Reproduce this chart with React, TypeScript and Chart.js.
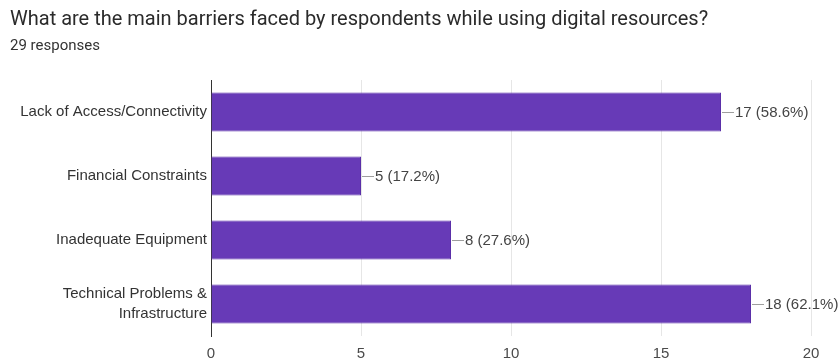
import React, { useEffect, useRef } from "react";
import { Chart, registerables } from "chart.js";

Chart.register(...registerables);

const TITLE = "What are the main barriers faced by respondents while using digital resources?";
const SUBTITLE = "29 responses";
const TOTAL = 29;
const categories: (string | string[])[] = [
  "Lack of Access/Connectivity",
  "Financial Constraints",
  "Inadequate Equipment",
  ["Technical Problems &", "Infrastructure"],
];
const counts = [17, 5, 8, 18];
const xTicks = [0, 5, 10, 15, 20];

const LABEL_FONT = "Arial, 'Liberation Sans', sans-serif";

const headerPlugin = {
  id: "header",
  beforeDraw(chart: any) {
    const ctx = chart.ctx;
    ctx.save();
    ctx.fillStyle = "#ffffff";
    ctx.fillRect(0, 0, chart.width, chart.height);
    ctx.textAlign = "left";
    ctx.textBaseline = "alphabetic";
    ctx.fillStyle = "#2b2b2b";
    ctx.font = "20px Roboto, sans-serif";
    ctx.fillText(TITLE, 10, 25);
    ctx.fillStyle = "#333333";
    ctx.font = "15px Roboto, sans-serif";
    ctx.fillText(SUBTITLE, 10, 50);
    ctx.restore();
  },
};

const valueLabelPlugin = {
  id: "valueLabels",
  afterDatasetsDraw(chart: any) {
    const ctx = chart.ctx;
    const meta = chart.getDatasetMeta(0);
    ctx.save();
    ctx.font = `15px ${LABEL_FONT}`;
    ctx.textAlign = "left";
    ctx.textBaseline = "middle";
    meta.data.forEach((bar: any, i: number) => {
      const v = counts[i];
      const x = bar.x;
      const y = bar.y;
      ctx.strokeStyle = "#9e9e9e";
      ctx.lineWidth = 1;
      ctx.beginPath();
      ctx.moveTo(x + 1, Math.round(y) + 0.5);
      ctx.lineTo(x + 13, Math.round(y) + 0.5);
      ctx.stroke();
      ctx.fillStyle = "#444444";
      ctx.fillText(`${v} (${((v / TOTAL) * 100).toFixed(1)}%)`, x + 14, y + 1);
    });
    ctx.restore();
  },
};

export default function App() {
  const ref = useRef<HTMLCanvasElement | null>(null);
  useEffect(() => {
    document.body.style.margin = "0";
    const chart = new Chart(ref.current as HTMLCanvasElement, {
      type: "bar",
      data: {
        labels: categories as any,
        datasets: [
          {
            data: counts,
            backgroundColor: "#673ab7",
            borderColor: "#5a2fa8",
            borderWidth: 1,
            barPercentage: 0.61,
            categoryPercentage: 1,
          },
        ],
      },
      options: {
        indexAxis: "y",
        animation: false,
        responsive: false,
        maintainAspectRatio: false,
        layout: { padding: { top: 80, left: 0, right: 29, bottom: 0 } },
        plugins: {
          legend: { display: false },
          tooltip: { enabled: false },
          title: { display: false },
        },
        scales: {
          x: {
            min: 0,
            max: 20,
            afterBuildTicks: (scale: any) => {
              scale.ticks = xTicks.map((v) => ({ value: v }));
            },
            afterFit: (scale: any) => {
              scale.height = 27;
            },
            grid: { color: "#e6e6e6", drawTicks: false },
            border: { display: false },
            ticks: {
              padding: 9,
              color: "#4a4a4a",
              font: { size: 15, family: LABEL_FONT },
            },
          },
          y: {
            afterFit: (scale: any) => {
              scale.width = 211;
            },
            grid: { display: false, drawTicks: false },
            border: { display: true, color: "#333333", width: 1 },
            ticks: {
              padding: 4,
              color: "#333333",
              font: { size: 15, family: LABEL_FONT, lineHeight: 1.35 },
            },
          },
        },
      },
      plugins: [headerPlugin, valueLabelPlugin],
    } as any);
    return () => chart.destroy();
  }, []);
  return (
    <div style={{ position: "absolute", left: 0, top: 0, width: 840, height: 363 }}>
      <canvas ref={ref} width={840} height={363} style={{ width: 840, height: 363 }} />
    </div>
  );
}
